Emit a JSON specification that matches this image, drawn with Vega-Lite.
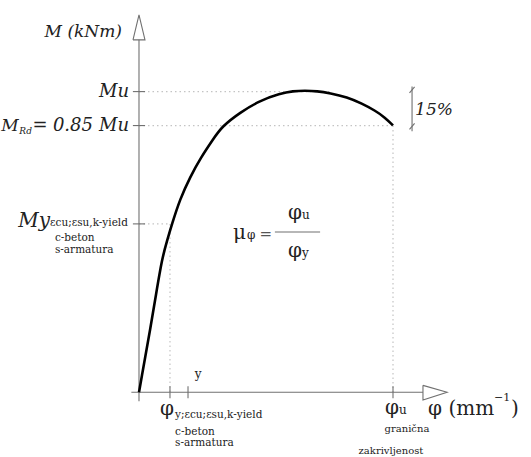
{
  "$schema": "https://vega.github.io/schema/vega-lite/v6.json",
  "width": 531,
  "height": 457,
  "autosize": {"type": "fit", "contains": "padding"},
  "padding": 0,
  "background": "white",
  "config": {"view": {"stroke": null}, "text": {"font": "DejaVu Serif", "color": "#222", "baseline": "alphabetic"}},
  "datasets": {
    "curve": [
      {"phi": 0, "M": 0}, {"phi": 1.18, "M": 5.63}, {"phi": 2.36, "M": 11.26}, {"phi": 4.33, "M": 20.53},
      {"phi": 6.69, "M": 32.45}, {"phi": 9.06, "M": 44.37}, {"phi": 11.02, "M": 50.33}, {"phi": 12.99, "M": 55.96},
      {"phi": 16.14, "M": 64.24}, {"phi": 20.08, "M": 71.52}, {"phi": 24.41, "M": 78.15}, {"phi": 29.13, "M": 84.11},
      {"phi": 32.68, "M": 88.41}, {"phi": 39.76, "M": 93.05}, {"phi": 47.64, "M": 97.02}, {"phi": 55.51, "M": 99.34},
      {"phi": 60.63, "M": 100.17}, {"phi": 65.35, "M": 100.33}, {"phi": 70.08, "M": 100.17}, {"phi": 75.2, "M": 99.5},
      {"phi": 81.89, "M": 98.18}, {"phi": 87.8, "M": 96.03}, {"phi": 92.91, "M": 93.71}, {"phi": 96.85, "M": 91.39},
      {"phi": 100, "M": 88.74}
    ],
    "axes": [
      {"p": 0, "m": -3, "p2": 0, "m2": 117.2},
      {"p": -3, "m": 0, "p2": 111.8, "m2": 0},
      {"p": -2.4, "m": 100, "p2": 2.4, "m2": 100},
      {"p": -2.4, "m": 88.7, "p2": 2.4, "m2": 88.7},
      {"p": -2.4, "m": 56, "p2": 2.4, "m2": 56},
      {"p": 12.2, "m": -2, "p2": 12.2, "m2": 2},
      {"p": 19.3, "m": -2, "p2": 19.3, "m2": 2},
      {"p": 100, "m": -2, "p2": 100, "m2": 2},
      {"p": 53.5, "m": 53.3, "p2": 71.3, "m2": 53.3},
      {"p": 107.5, "m": 101.7, "p2": 107.5, "m2": 86.8},
      {"p": 106.5, "m": 99.6, "p2": 108.5, "m2": 101.6},
      {"p": 106.5, "m": 87.4, "p2": 108.5, "m2": 89.4}
    ],
    "dotted": [
      {"p": 0, "m": 100, "p2": 75, "m2": 100},
      {"p": 0, "m": 88.7, "p2": 100, "m2": 88.7},
      {"p": 0, "m": 56, "p2": 12.2, "m2": 56},
      {"p": 12.2, "m": 56, "p2": 12.2, "m2": 0},
      {"p": 100, "m": 88.7, "p2": 100, "m2": 0}
    ],
    "arrows": [
      {"g": "y", "o": 1, "p": -2.36, "m": 117.2},
      {"g": "y", "o": 2, "p": 0, "m": 125.5},
      {"g": "y", "o": 3, "p": 2.36, "m": 117.2},
      {"g": "y", "o": 4, "p": -2.36, "m": 117.2},
      {"g": "x", "o": 1, "p": 111.8, "m": 2.3},
      {"g": "x", "o": 2, "p": 121.3, "m": 0},
      {"g": "x", "o": 3, "p": 111.8, "m": -2.6},
      {"g": "x", "o": 4, "p": 111.8, "m": 2.3}
    ],
    "axisTitle": [
      {"t": "M (kNm)", "p": -6.7, "m": 118.2}
    ],
    "muLabels": [
      {"t": "Mu", "p": -3.94, "m": 98.3},
      {"t": "Mu", "p": -3.94, "m": 86.8}
    ],
    "mrdLeft": [
      {"t": "M", "p": -54.2, "m": 86.8}
    ],
    "mrdCenter": [
      {"t": "=", "p": -39.0, "m": 86.8},
      {"t": "0.85", "p": -26.0, "m": 86.8}
    ],
    "mrdSub": [
      {"t": "Rd", "p": -47.1, "m": 85.8}
    ],
    "myLabel": [
      {"t": "My", "p": -35.0, "m": 55.0}
    ],
    "pct": [
      {"t": "15%", "p": 108.7, "m": 92.2}
    ],
    "small": [
      {"t": "εcu;εsu,k-yield", "p": -35.0, "m": 55.3},
      {"t": "c-beton", "p": -33.1, "m": 50.3},
      {"t": "s-armatura", "p": -33.1, "m": 46.4},
      {"t": "y;εcu;εsu,k-yield", "p": 14.2, "m": -8.4},
      {"t": "c-beton", "p": 14.2, "m": -14.2},
      {"t": "s-armatura", "p": 14.2, "m": -17.9}
    ],
    "smallCenter": [
      {"t": "granična", "p": 105.5, "m": -13.2},
      {"t": "zakrivljenost", "p": 99.2, "m": -20.6}
    ],
    "sub12": [
      {"t": "y", "p": 22.0, "m": 4.6},
      {"t": "φ", "p": 42.5, "m": 51.0},
      {"t": "u", "p": 64.2, "m": 57.6},
      {"t": "y", "p": 64.2, "m": 45.0},
      {"t": "u", "p": 102.4, "m": -7.3}
    ],
    "big": [
      {"t": "φ", "p": 8.27, "m": -7.6},
      {"t": "φ", "p": 96.9, "m": -7.3},
      {"t": "φ (mm", "p": 113.8, "m": -7.6},
      {"t": ")", "p": 146.5, "m": -7.6},
      {"t": "μ", "p": 37.0, "m": 51.0},
      {"t": "φ", "p": 58.7, "m": 57.6},
      {"t": "φ", "p": 58.7, "m": 45.0}
    ],
    "eq": [
      {"t": "=", "p": 47.4, "m": 51.0}
    ],
    "sup": [
      {"t": "−1", "p": 139.8, "m": -2.8}
    ]
  },
  "layer": [
    {
      "data": {"name": "dotted"},
      "mark": {"type": "rule", "color": "#c4c4c4", "strokeWidth": 1.2, "strokeDash": [1.5, 3]},
      "encoding": {
        "x": {"field": "p", "type": "quantitative", "scale": {"domain": [-54.72, 154.33], "nice": false, "zero": false}, "axis": null},
        "y": {"field": "m", "type": "quantitative", "scale": {"domain": [-20.86, 130.46], "nice": false, "zero": false}, "axis": null},
        "x2": {"field": "p2"},
        "y2": {"field": "m2"}
      }
    },
    {
      "data": {"name": "axes"},
      "mark": {"type": "rule", "color": "#707070", "strokeWidth": 1.1},
      "encoding": {
        "x": {"field": "p", "type": "quantitative"},
        "y": {"field": "m", "type": "quantitative"},
        "x2": {"field": "p2"},
        "y2": {"field": "m2"}
      }
    },
    {
      "data": {"name": "arrows"},
      "mark": {"type": "line", "color": "#707070", "strokeWidth": 1.1},
      "encoding": {
        "x": {"field": "p", "type": "quantitative"},
        "y": {"field": "m", "type": "quantitative"},
        "detail": {"field": "g"},
        "order": {"field": "o", "type": "quantitative"}
      }
    },
    {
      "data": {"name": "curve"},
      "mark": {"type": "line", "color": "black", "strokeWidth": 2.6, "interpolate": "basis"},
      "encoding": {
        "x": {"field": "phi", "type": "quantitative"},
        "y": {"field": "M", "type": "quantitative"}
      }
    },
    {
      "data": {"name": "axisTitle"},
      "mark": {"type": "text", "fontStyle": "italic", "fontSize": 17, "align": "right"},
      "encoding": {"x": {"field": "p", "type": "quantitative"}, "y": {"field": "m", "type": "quantitative"}, "text": {"field": "t"}}
    },
    {
      "data": {"name": "muLabels"},
      "mark": {"type": "text", "fontStyle": "italic", "fontSize": 18, "align": "right"},
      "encoding": {"x": {"field": "p", "type": "quantitative"}, "y": {"field": "m", "type": "quantitative"}, "text": {"field": "t"}}
    },
    {
      "data": {"name": "mrdLeft"},
      "mark": {"type": "text", "fontStyle": "italic", "fontSize": 17, "align": "left"},
      "encoding": {"x": {"field": "p", "type": "quantitative"}, "y": {"field": "m", "type": "quantitative"}, "text": {"field": "t"}}
    },
    {
      "data": {"name": "mrdCenter"},
      "mark": {"type": "text", "fontStyle": "italic", "fontSize": 18, "align": "center"},
      "encoding": {"x": {"field": "p", "type": "quantitative"}, "y": {"field": "m", "type": "quantitative"}, "text": {"field": "t"}}
    },
    {
      "data": {"name": "mrdSub"},
      "mark": {"type": "text", "fontStyle": "italic", "fontSize": 9, "align": "left"},
      "encoding": {"x": {"field": "p", "type": "quantitative"}, "y": {"field": "m", "type": "quantitative"}, "text": {"field": "t"}}
    },
    {
      "data": {"name": "myLabel"},
      "mark": {"type": "text", "fontStyle": "italic", "fontSize": 20, "align": "right"},
      "encoding": {"x": {"field": "p", "type": "quantitative"}, "y": {"field": "m", "type": "quantitative"}, "text": {"field": "t"}}
    },
    {
      "data": {"name": "pct"},
      "mark": {"type": "text", "fontStyle": "italic", "fontSize": 17, "align": "left"},
      "encoding": {"x": {"field": "p", "type": "quantitative"}, "y": {"field": "m", "type": "quantitative"}, "text": {"field": "t"}}
    },
    {
      "data": {"name": "small"},
      "mark": {"type": "text", "fontSize": 10.5, "align": "left"},
      "encoding": {"x": {"field": "p", "type": "quantitative"}, "y": {"field": "m", "type": "quantitative"}, "text": {"field": "t"}}
    },
    {
      "data": {"name": "smallCenter"},
      "mark": {"type": "text", "fontSize": 10, "align": "center"},
      "encoding": {"x": {"field": "p", "type": "quantitative"}, "y": {"field": "m", "type": "quantitative"}, "text": {"field": "t"}}
    },
    {
      "data": {"name": "sub12"},
      "mark": {"type": "text", "fontSize": 12, "align": "left"},
      "encoding": {"x": {"field": "p", "type": "quantitative"}, "y": {"field": "m", "type": "quantitative"}, "text": {"field": "t"}}
    },
    {
      "data": {"name": "big"},
      "mark": {"type": "text", "fontSize": 20, "align": "left"},
      "encoding": {"x": {"field": "p", "type": "quantitative"}, "y": {"field": "m", "type": "quantitative"}, "text": {"field": "t"}}
    },
    {
      "data": {"name": "eq"},
      "mark": {"type": "text", "fontSize": 15, "align": "left", "color": "#555"},
      "encoding": {"x": {"field": "p", "type": "quantitative"}, "y": {"field": "m", "type": "quantitative"}, "text": {"field": "t"}}
    },
    {
      "data": {"name": "sup"},
      "mark": {"type": "text", "fontSize": 11, "align": "left"},
      "encoding": {"x": {"field": "p", "type": "quantitative"}, "y": {"field": "m", "type": "quantitative"}, "text": {"field": "t"}}
    }
  ]
}
